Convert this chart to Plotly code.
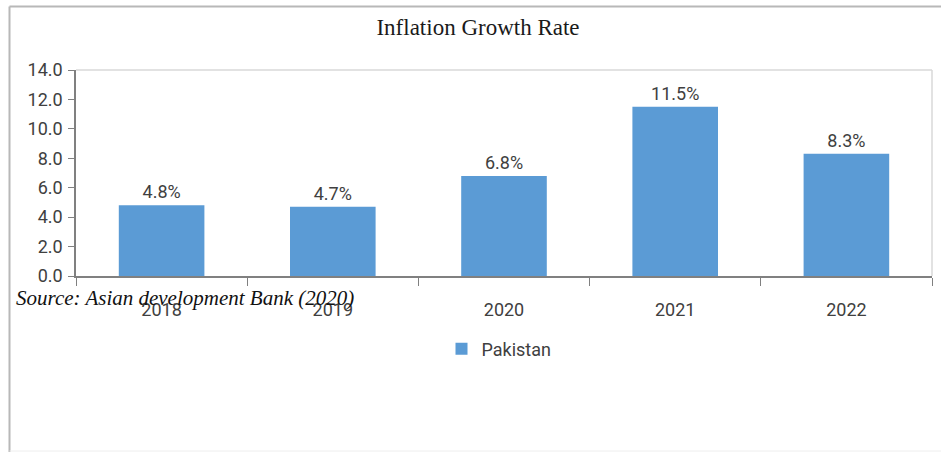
import plotly.graph_objects as go

years = ["2018", "2019", "2020", "2021", "2022"]
inflation = [4.8, 4.7, 6.8, 11.5, 8.3]
labels = ["4.8%", "4.7%", "6.8%", "11.5%", "8.3%"]
y_ticks = [0, 2, 4, 6, 8, 10, 12, 14]
y_tick_text = ["0.0", "2.0", "4.0", "6.0", "8.0", "10.0", "12.0", "14.0"]

W, H = 941, 453
L, R, T, B = 76, 9, 70, 177
pw, ph = W - L - R, H - T - B

def px(x):
    return (x - L) / pw

def py(y):
    return (H - B - y) / ph

sans = "Liberation Sans Narrow, Roboto, Liberation Sans, sans-serif"
serif = "Liberation Serif, Times New Roman, serif"

fig = go.Figure()
fig.add_trace(go.Bar(
    x=years, y=inflation, name="Pakistan",
    marker=dict(color="#5B9BD5", line=dict(width=0)),
    text=labels, textposition="outside", cliponaxis=False,
    textfont=dict(family=sans, size=18, color="#404040"),
))

shapes = [
    # outer frame
    dict(type="line", xref="paper", yref="paper", x0=px(9.5), x1=px(941), y0=py(6.5), y1=py(6.5),
         line=dict(color="#b8b8b8", width=2)),
    dict(type="line", xref="paper", yref="paper", x0=px(9.5), x1=px(9.5), y0=py(6.5), y1=py(452),
         line=dict(color="#b8b8b8", width=2)),
    dict(type="line", xref="paper", yref="paper", x0=px(9.5), x1=px(941), y0=py(451), y1=py(451),
         line=dict(color="#eeeeee", width=1)),
    # plot area top and right borders
    dict(type="line", xref="paper", yref="paper", x0=0, x1=1, y0=1, y1=1,
         line=dict(color="#d9d9d9", width=1.5)),
    dict(type="line", xref="paper", yref="paper", x0=1, x1=1, y0=0, y1=1,
         line=dict(color="#d9d9d9", width=1.5)),
]

fig.update_layout(
    width=W, height=H,
    margin=dict(l=L, r=R, t=T, b=B),
    paper_bgcolor="white", plot_bgcolor="white",
    bargap=0.5,
    showlegend=True,
    title=dict(text="Inflation Growth Rate", x=478 / W, xref="container", xanchor="center",
               y=1 - 27 / H, yref="container", yanchor="middle",
               font=dict(family=serif, size=23, color="#1a1a1a")),
    legend=dict(orientation="h", x=px(499), xanchor="center", y=py(349), yanchor="middle",
                font=dict(family=sans, size=18, color="#404040"), itemwidth=30,
                bgcolor="rgba(0,0,0,0)"),
    shapes=shapes,
    annotations=[dict(text="<i>Source: Asian development Bank (2020)</i>", xref="paper", yref="paper",
                      x=px(14), y=py(298), xanchor="left", yanchor="middle", showarrow=False,
                      font=dict(family=serif, size=21, color="#111111"))],
)

fig.update_xaxes(
    type="category", tickson="boundaries", ticks="outside", ticklen=8, tickcolor="#808080",
    showline=True, linecolor="#808080", linewidth=1.5, showgrid=False,
    ticklabelstandoff=17,
    tickfont=dict(family=sans, size=18, color="#404040"),
)
fig.update_yaxes(
    range=[0, 14], tickvals=y_ticks, ticktext=y_tick_text, ticks="outside", ticklen=6,
    tickcolor="#808080", showline=True, linecolor="#808080", linewidth=1.5, showgrid=False,
    zeroline=False, ticklabelstandoff=2,
    tickfont=dict(family=sans, size=18, color="#404040"),
)

fig.write_html("out.html", config={"displayModeBar": False},
               post_script="document.body.style.margin='0px';")
